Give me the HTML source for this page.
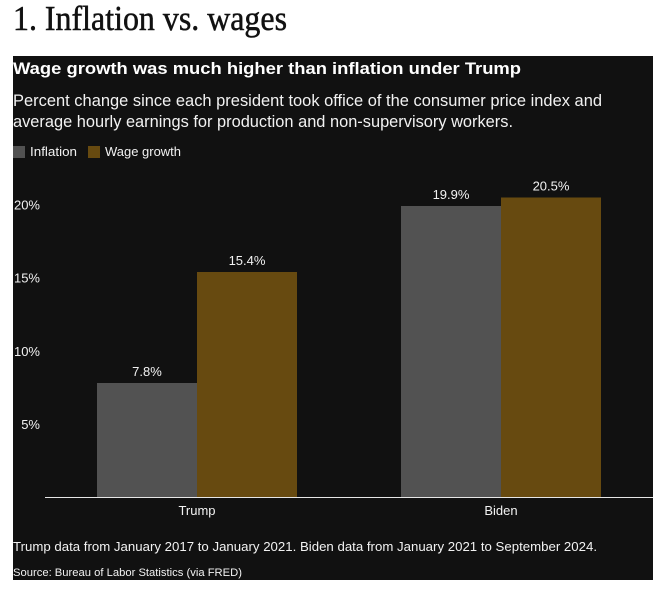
<!DOCTYPE html>
<html lang="en">
<head>
<meta charset="utf-8">
<title>Inflation vs. wages</title>
<style>
html,body{margin:0;padding:0;background:#fff;width:667px;height:598px;overflow:hidden}
svg{display:block;font-family:"Liberation Sans",sans-serif}
</style>
</head>
<body>
<svg id="chart" width="667" height="598" viewBox="0 0 667 598">
  <text x="13" y="30" font-family="'Liberation Serif',serif" font-size="35" fill="#111" stroke="#111" stroke-width="0.5" textLength="274" lengthAdjust="spacingAndGlyphs">1. Inflation vs. wages</text>
  <rect x="13" y="56" width="640" height="524" fill="#111111"/>
  <text x="13" y="74" font-size="17" font-weight="bold" fill="#fff" textLength="508" lengthAdjust="spacingAndGlyphs">Wage growth was much higher than inflation under Trump</text>
  <text x="13" y="106" font-size="17" fill="#f2f2f2" textLength="589" lengthAdjust="spacingAndGlyphs">Percent change since each president took office of the consumer price index and</text>
  <text x="13" y="127" font-size="17" fill="#f2f2f2" textLength="500" lengthAdjust="spacingAndGlyphs">average hourly earnings for production and non-supervisory workers.</text>
  <g>
    <rect x="13" y="146" width="12" height="12" fill="#525252"/>
    <text x="30" y="156" font-size="13" fill="#f2f2f2" textLength="47" lengthAdjust="spacingAndGlyphs">Inflation</text>
    <rect x="88" y="146" width="12" height="12" fill="#674a10"/>
    <text x="105" y="156" font-size="13" fill="#f2f2f2" textLength="76" lengthAdjust="spacingAndGlyphs">Wage growth</text>
  </g>
  <g id="y-axis"></g>
  <g id="bars"></g>
  <line x1="45" x2="653" y1="497.5" y2="497.5" stroke="#e6e6e6" stroke-width="1"/>
  <g id="x-axis"></g>
  <text x="13" y="551" font-size="13" fill="#f2f2f2" textLength="584" lengthAdjust="spacingAndGlyphs">Trump data from January 2017 to January 2021. Biden data from January 2021 to September 2024.</text>
  <text x="13" y="576" font-size="11" fill="#f2f2f2" textLength="229" lengthAdjust="spacingAndGlyphs">Source: Bureau of Labor Statistics (via FRED)</text>
</svg>
<script>
const categories = ['Trump', 'Biden'];
const inflationValues = [7.8, 19.9];
const wageValues = [15.4, 20.5];
const inflationLabels = ['7.8%', '19.9%'];
const wageLabels = ['15.4%', '20.5%'];
const yTicks = [5, 10, 15, 20];
const yTickLabels = ['5%', '10%', '15%', '20%'];

const NS = 'http://www.w3.org/2000/svg';
const baseY = 497;
const pxPerUnit = 14.62;
const firstCenter = 197;
const groupStep = 304;
const barW = 100;
const y = v => baseY - v * pxPerUnit;
const xCenter = i => firstCenter + i * groupStep;

function addText(parent, x, yPos, str, anchor) {
  const t = document.createElementNS(NS, 'text');
  t.setAttribute('x', x);
  t.setAttribute('y', yPos);
  t.setAttribute('font-size', '13');
  t.setAttribute('fill', '#f2f2f2');
  t.setAttribute('text-anchor', anchor);
  t.textContent = str;
  parent.appendChild(t);
  return t;
}
function addBar(parent, x, v, color) {
  const r = document.createElementNS(NS, 'rect');
  r.setAttribute('x', x);
  r.setAttribute('y', y(v));
  r.setAttribute('width', barW);
  r.setAttribute('height', baseY - y(v));
  r.setAttribute('fill', color);
  r.setAttribute('shape-rendering', 'crispEdges');
  parent.appendChild(r);
  return r;
}

const yAxis = document.getElementById('y-axis');
yTicks.forEach((tick, i) => {
  const t = addText(yAxis, 40, y(tick) + 5, yTickLabels[i], 'end');
  
  
});

const bars = document.getElementById('bars');
const xAxis = document.getElementById('x-axis');
categories.forEach((cat, i) => {
  const c = xCenter(i);
  const b1 = addBar(bars, c - barW, inflationValues[i], '#525252');
  
  
  const b2 = addBar(bars, c, wageValues[i], '#674a10');
  
  
  const l1 = addText(bars, c - barW / 2, y(inflationValues[i]) - 7, inflationLabels[i], 'middle');
  
  
  const l2 = addText(bars, c + barW / 2, y(wageValues[i]) - 7, wageLabels[i], 'middle');
  
  
  const xl = addText(xAxis, c, 515, cat, 'middle');
  
  
});
</script>
</body>
</html>
